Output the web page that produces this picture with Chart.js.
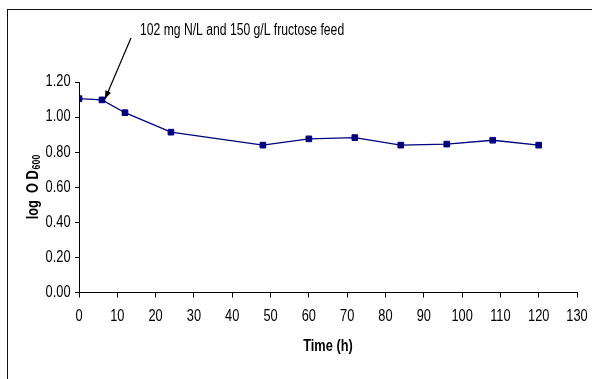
<!DOCTYPE html>
<html>
<head>
<meta charset="utf-8">
<script src="https://cdn.jsdelivr.net/npm/chart.js@4/dist/chart.umd.min.js"></script>
<style>
  html, body { margin: 0; padding: 0; background: #fff; overflow: hidden; }
  #wrap { position: relative; width: 592px; height: 379px; }
  #frame { position: absolute; left: 7px; top: 9px; width: 700px; height: 500px; border: 1px solid #111; box-sizing: border-box; }
  canvas { position: absolute; left: 0; top: 0; }
</style>
</head>
<body>
<div id="wrap">
  <div id="frame"></div>
  <canvas id="chart" width="592" height="379"></canvas>
</div>
<script>
// Sampling times (h) and log OD600 readings
const timeHours = [0, 6, 12, 24, 48, 60, 72, 84, 96, 108, 120];
const logOD600 = [1.105, 1.098, 1.025, 0.914, 0.840, 0.876, 0.883, 0.840, 0.846, 0.868, 0.840];

// Axis ranges / tick steps
const xTicks = { min: 0, max: 130, step: 10 };
const yTicks = { min: 0, max: 1.2, step: 0.2 };

// Feed annotation
const feedLabel = '102 mg N/L and 150 g/L fructose feed';
const feedIndex = 1;

const FONT = '"Liberation Sans", Arial, sans-serif';
const NAVY = '#000080';

// text drawn horizontally condensed (narrow-face look)
function narrowText(ctx, text, x, y, align, baseline, squeeze) {
  ctx.save();
  ctx.translate(x, y);
  ctx.scale(squeeze, 1);
  ctx.textAlign = align;
  ctx.textBaseline = baseline;
  ctx.fillText(text, 0, 0);
  ctx.restore();
}

const narrowLabels = {
  id: 'narrowLabels',
  afterDraw(chart) {
    const { ctx, chartArea, scales } = chart;
    const xs = scales.x, ys = scales.y;
    ctx.save();
    ctx.fillStyle = '#000';
    ctx.strokeStyle = '#000';

    // tick labels, placed by the scales
    ctx.font = '16px ' + FONT;
    xs.ticks.forEach(t => {
      narrowText(ctx, String(t.value), xs.getPixelForValue(t.value), chartArea.bottom + 24.5, 'center', 'middle', 0.8);
    });
    ys.ticks.forEach(t => {
      narrowText(ctx, Number(t.value).toFixed(2), chartArea.left - 8.5, ys.getPixelForValue(t.value), 'right', 'middle', 0.8);
    });

    // x-axis title
    ctx.font = 'bold 16px ' + FONT;
    narrowText(ctx, 'Time (h)', (chartArea.left + chartArea.right) / 2, 347, 'center', 'middle', 0.8);

    // y-axis title with subscript
    ctx.save();
    ctx.translate(32, 187);
    ctx.rotate(-Math.PI / 2);
    ctx.scale(0.8, 1);
    const main = 'log  O D';
    const sub = '600';
    ctx.font = 'bold 16px ' + FONT;
    const wMain = ctx.measureText(main).width;
    ctx.font = 'bold 11px ' + FONT;
    const wSub = ctx.measureText(sub).width;
    const total = wMain + wSub + 1;
    ctx.textAlign = 'left';
    ctx.textBaseline = 'alphabetic';
    ctx.font = 'bold 16px ' + FONT;
    ctx.fillText(main, -total / 2, 5.5);
    ctx.font = 'bold 11px ' + FONT;
    ctx.fillText(sub, -total / 2 + wMain + 1, 7.5);
    ctx.restore();

    // feed annotation arrow, anchored to the feed sample
    const px = xs.getPixelForValue(timeHours[feedIndex]);
    const py = ys.getPixelForValue(logOD600[feedIndex]);
    const tipX = px + 3, tipY = py - 1;
    const tailX = tipX + 26, tailY = tipY - 61;
    ctx.lineWidth = 1.2;
    ctx.beginPath();
    ctx.moveTo(tailX, tailY);
    ctx.lineTo(tipX, tipY);
    ctx.stroke();
    const ang = Math.atan2(tipY - tailY, tipX - tailX);
    const hl = 8, hw = 3;
    ctx.beginPath();
    ctx.moveTo(tipX, tipY);
    ctx.lineTo(tipX - hl * Math.cos(ang) + hw * Math.sin(ang), tipY - hl * Math.sin(ang) - hw * Math.cos(ang));
    ctx.lineTo(tipX - hl * Math.cos(ang) - hw * Math.sin(ang), tipY - hl * Math.sin(ang) + hw * Math.cos(ang));
    ctx.closePath();
    ctx.fill();

    ctx.font = '16px ' + FONT;
    narrowText(ctx, feedLabel, tipX + 35, tipY - 68, 'left', 'middle', 0.76);
    ctx.restore();
  }
};

new Chart(document.getElementById('chart'), {
  type: 'line',
  data: {
    datasets: [{
      data: timeHours.map((t, i) => ({ x: t, y: logOD600[i] })),
      borderColor: NAVY,
      backgroundColor: NAVY,
      borderWidth: 1.3,
      pointStyle: 'rect',
      pointRadius: 4,
      pointBorderWidth: 1,
      pointBorderColor: NAVY,
      pointBackgroundColor: NAVY,
      tension: 0,
      fill: false
    }]
  },
  options: {
    responsive: false,
    animation: false,
    devicePixelRatio: 1,
    layout: { padding: { left: 0, right: 15, top: 82, bottom: 0 } },
    plugins: { legend: { display: false }, tooltip: { enabled: false } },
    scales: {
      x: {
        type: 'linear',
        min: xTicks.min, max: xTicks.max,
        ticks: { stepSize: xTicks.step, color: 'rgba(0,0,0,0)', font: { family: FONT, size: 15 }, padding: 2, maxRotation: 0, autoSkip: false },
        grid: { drawOnChartArea: false, drawTicks: true, tickLength: 5, color: '#000' },
        border: { color: '#000', width: 1 },
        afterFit(scale) { scale.height = 379 - 292.5; }
      },
      y: {
        min: yTicks.min, max: yTicks.max,
        ticks: { stepSize: yTicks.step, color: 'rgba(0,0,0,0)', font: { family: FONT, size: 15 }, padding: 4, callback: v => Number(v).toFixed(2) },
        grid: { drawOnChartArea: false, drawTicks: true, tickLength: 4, color: '#000' },
        border: { color: '#000', width: 1 },
        afterFit(scale) { scale.width = 79; }
      }
    }
  },
  plugins: [narrowLabels]
});
</script>
</body>
</html>
